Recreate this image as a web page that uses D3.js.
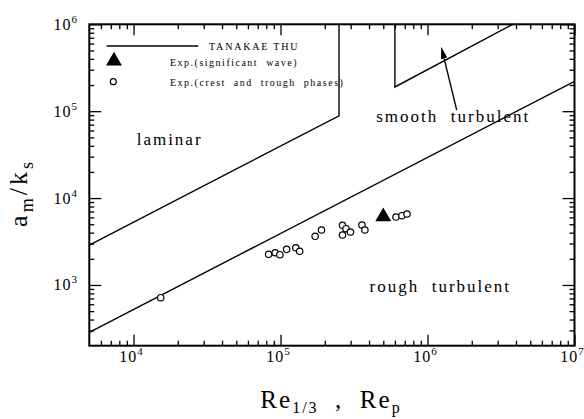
<!DOCTYPE html>
<html>
<head>
<meta charset="utf-8">
<script src="https://cdn.jsdelivr.net/npm/d3@7"></script>
<style>
  body { margin: 0; background: #fff; }
</style>
</head>
<body>
<svg id="chart" width="584" height="419" font-family="'Liberation Serif', 'Times New Roman', Times, serif"></svg>
<script>
//////// data
// regime boundaries (TANAKA & THU)
var laminarLine = [[5000, 2880], [2.5e5, 8.85e4], [2.5e5, 1e6]]
var roughLine = [[5000, 285], [1e7, 2.2e5]]
var smoothLine = [[6e5, 1e6], [6e5, 1.9e5], [3.8e6, 1e6]]

// Exp. (significant wave)
var expSig = [[5.0e5, 6100]]
// Exp. (crest and trough phases)
var expCrest = [
  [1.53e4, 714], [8.3e4, 2250], [9.2e4, 2350], [9.9e4, 2230], [1.1e5, 2570],
  [1.27e5, 2680], [1.35e5, 2440], [1.72e5, 3630], [1.9e5, 4290], [2.64e5, 4860],
  [2.79e5, 4440], [2.64e5, 3760], [2.99e5, 4070], [3.58e5, 4900], [3.75e5, 4290],
  [6.1e5, 6050], [6.7e5, 6270], [7.25e5, 6560]
]

var xMajor = [1e4, 1e5, 1e6, 1e7]
var yMajor = [1e3, 1e4, 1e5, 1e6]
var xExp = ["4", "5", "6", "7"]
var yExp = ["3", "4", "5", "6"]

var regionLabels = [
  { text: "laminar", x: 1.05e4, y: 4.08e4 },
  { text: "smooth  turbulent", x: 4.48e5, y: 7.57e4 },
  { text: "rough  turbulent", x: 4.03e5, y: 836 }
]
// arrow: tail -> tip
var arrowPts = [[1.58e6, 1.03e5], [1.24e6, 5.52e5]]

//////// layout
var W = 584, H = 419
var margin = { t: 24.3, r: 9.5, b: 73.3, l: 89.3 }

var svg = d3.select("#chart")

var x = d3.scaleLog().domain([5000, 1e7]).range([margin.l, W - margin.r])
var y = d3.scaleLog().domain([200, 1e6]).range([H - margin.b, margin.t])

function minors(lo, hi) {
  var out = []
  for (var p = Math.floor(Math.log10(lo)); p < Math.ceil(Math.log10(hi)); p++) {
    for (var k = 2; k <= 9; k++) {
      var v = k * Math.pow(10, p)
      if (v > lo && v < hi) out.push(v)
    }
  }
  return out
}
var xMinor = minors(5000, 1e7)
var yMinor = minors(200, 1e6)

//////// axes (ticks inward on all four sides)
function addAxis(axisFn, scale, vals, size, tr) {
  svg.append("g")
    .attr("transform", tr)
    .call(axisFn(scale).tickValues(vals).tickSize(size).tickFormat(""))
    .call(g => g.select(".domain").remove())
    .call(g => g.selectAll("line").attr("stroke", "#000").attr("stroke-width", 1.3))
}
var bottomY = H - margin.b, rightX = W - margin.r
addAxis(d3.axisBottom, x, xMajor, -11, "translate(0," + bottomY + ")")
addAxis(d3.axisBottom, x, xMinor, -5, "translate(0," + bottomY + ")")
addAxis(d3.axisTop, x, xMajor, -11, "translate(0," + margin.t + ")")
addAxis(d3.axisTop, x, xMinor, -5, "translate(0," + margin.t + ")")
addAxis(d3.axisLeft, y, yMajor, -12, "translate(" + margin.l + ",0)")
addAxis(d3.axisLeft, y, yMinor, -5, "translate(" + margin.l + ",0)")
addAxis(d3.axisRight, y, yMajor, -12, "translate(" + rightX + ",0)")
addAxis(d3.axisRight, y, yMinor, -5, "translate(" + rightX + ",0)")

// frame
svg.append("rect")
  .attr("x", margin.l).attr("y", margin.t)
  .attr("width", rightX - margin.l).attr("height", bottomY - margin.t)
  .attr("fill", "none").attr("stroke", "#000").attr("stroke-width", 2)

// tick labels 10^n
xMajor.forEach(function (v, i) {
  var t = svg.append("text")
    .attr("x", x(v) - 2).attr("y", 361.5)
    .attr("text-anchor", "middle")
    .style("font-size", "16px").style("letter-spacing", "1px")
  t.append("tspan").text("10")
  t.append("tspan").attr("dy", -7).style("font-size", "11px").text(xExp[i])
})
yMajor.forEach(function (v, i) {
  var t = svg.append("text")
    .attr("x", 78).attr("y", y(v) + 5.5)
    .attr("text-anchor", "end")
    .style("font-size", "16px").style("letter-spacing", "1px")
  t.append("tspan").text("10")
  t.append("tspan").attr("dy", -7).style("font-size", "11px").text(yExp[i])
})

// axis titles
var xt = svg.append("text")
  .attr("x", 331).attr("y", 408)
  .attr("text-anchor", "middle")
  .style("font-size", "25px").style("letter-spacing", "2px")
  .style("white-space", "pre")
xt.append("tspan").text("Re")
xt.append("tspan").attr("dy", 5).style("font-size", "16px").text("1/3")
xt.append("tspan").attr("dy", -5).text("  ,  Re")
xt.append("tspan").attr("dy", 5).style("font-size", "16px").text("p")

var yt = svg.append("text")
  .attr("transform", "translate(27,193) rotate(-90)")
  .attr("text-anchor", "middle")
  .style("font-size", "26px").style("letter-spacing", "3px")
yt.append("tspan").text("a")
yt.append("tspan").attr("dy", 6).style("font-size", "18px").text("m")
yt.append("tspan").attr("dy", -6).text("/k")
yt.append("tspan").attr("dy", 6).style("font-size", "18px").text("s")

//////// boundary lines
var line = d3.line().x(d => x(d[0])).y(d => y(d[1]))
var plotArea = svg.append("g")
;[laminarLine, roughLine, smoothLine].forEach(function (d) {
  plotArea.append("path")
    .attr("d", line(d))
    .attr("fill", "none").attr("stroke", "#000").attr("stroke-width", 1.4)
})

//////// region labels
svg.selectAll(".region")
  .data(regionLabels)
  .enter().append("text")
  .attr("class", "region")
  .attr("x", d => x(d.x)).attr("y", d => y(d.y))
  .style("font-size", "17px").style("letter-spacing", "2px")
  .style("white-space", "pre")
  .text(d => d.text)

//////// arrow
var ax0 = x(arrowPts[0][0]), ay0 = y(arrowPts[0][1])
var ax1 = x(arrowPts[1][0]), ay1 = y(arrowPts[1][1])
var ang = Math.atan2(ay1 - ay0, ax1 - ax0)
var headL = 12, headW = 3.2
var bx = ax1 - headL * Math.cos(ang), by = ay1 - headL * Math.sin(ang)
svg.append("line")
  .attr("x1", ax0).attr("y1", ay0).attr("x2", bx).attr("y2", by)
  .attr("stroke", "#000").attr("stroke-width", 1.4)
svg.append("path")
  .attr("d", "M" + ax1 + "," + ay1 +
    "L" + (bx + headW * Math.sin(ang)) + "," + (by - headW * Math.cos(ang)) +
    "L" + (bx - headW * Math.sin(ang)) + "," + (by + headW * Math.cos(ang)) + "Z")
  .attr("fill", "#000")

//////// experimental points
svg.selectAll(".crest")
  .data(expCrest)
  .enter().append("circle")
  .attr("class", "crest")
  .attr("cx", d => x(d[0])).attr("cy", d => y(d[1]))
  .attr("r", 3.2)
  .attr("fill", "#fff").attr("stroke", "#000").attr("stroke-width", 1.2)

var tri = d3.symbol().type(d3.symbolTriangle).size(110)
svg.selectAll(".sig")
  .data(expSig)
  .enter().append("path")
  .attr("class", "sig")
  .attr("transform", d => "translate(" + x(d[0]) + "," + y(d[1]) + ")")
  .attr("d", tri)
  .attr("fill", "#000")

//////// legend
var leg = svg.append("g")
leg.append("line")
  .attr("x1", 106.7).attr("x2", 198.3).attr("y1", 46).attr("y2", 46)
  .attr("stroke", "#000").attr("stroke-width", 1.4)
leg.append("text")
  .attr("x", 209).attr("y", 49.5)
  .style("font-size", "10px").style("letter-spacing", "1.8px")
  .text("TANAKAE THU")
leg.append("path")
  .attr("transform", "translate(114,61)")
  .attr("d", tri)
  .attr("fill", "#000")
leg.append("text")
  .attr("x", 170).attr("y", 66)
  .style("font-size", "10px").style("letter-spacing", "1.5px")
  .style("white-space", "pre")
  .text("Exp.(significant  wave)")
leg.append("circle")
  .attr("cx", 113.3).attr("cy", 81.7).attr("r", 3)
  .attr("fill", "#fff").attr("stroke", "#000").attr("stroke-width", 1.2)
leg.append("text")
  .attr("x", 170).attr("y", 85.5)
  .style("font-size", "10px").style("letter-spacing", "1.5px")
  .style("white-space", "pre")
  .text("Exp.(crest  and  trough  phases)")
</script>
</body>
</html>
